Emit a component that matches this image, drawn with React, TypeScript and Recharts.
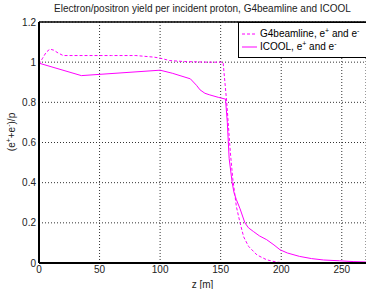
import React from 'react';
import {
  LineChart, Line, XAxis, YAxis, CartesianGrid, ReferenceLine
} from 'recharts';

const FONT = '"Liberation Sans", Arial, Helvetica, sans-serif';
const MAGENTA = '#ff00ff';

// z [m] and yield for each code
const g4Z = [0, 3, 6, 9, 12, 16, 20, 40, 60, 80, 95, 100, 108, 120, 140, 152, 155, 158, 160, 163, 166, 169, 173, 180, 188, 195, 200, 220, 270];
const g4Yield = [0.99, 1.02, 1.05, 1.065, 1.06, 1.045, 1.033, 1.033, 1.033, 1.033, 1.025, 1.02, 1.008, 1.003, 1.0, 1.0, 0.8, 0.55, 0.42, 0.28, 0.2, 0.13, 0.083, 0.04, 0.016, 0.006, 0.002, 0.001, 0];

const icoolZ = [0, 35, 100, 110, 125, 130, 133, 137, 141, 148, 154, 155.5, 157, 159.5, 161, 163, 166, 170, 173, 177, 182, 188, 194, 199, 205, 215, 225, 235, 248, 260, 270];
const icoolYield = [0.995, 0.933, 0.96, 0.945, 0.917, 0.885, 0.862, 0.845, 0.837, 0.825, 0.816, 0.7, 0.52, 0.4, 0.35, 0.315, 0.27, 0.2, 0.175, 0.157, 0.135, 0.116, 0.09, 0.066, 0.05, 0.033, 0.022, 0.015, 0.011, 0.007, 0.005];

const xTicks = [0, 50, 100, 150, 200, 250];
const yTicks = [0, 0.2, 0.4, 0.6, 0.8, 1, 1.2];

const g4Data = g4Z.map((z, i) => ({ z, v: g4Yield[i] }));
const icoolData = icoolZ.map((z, i) => ({ z, v: icoolYield[i] }));

const sup = (s: string) => (
  <sup style={{ fontSize: 7, lineHeight: 0 }}>{s}</sup>
);

const LegendBox = () => (
  <div style={{
    position: 'absolute', left: 238, top: 22,
    border: '1.5px solid #000', background: '#fff', width: 140, height: 36,
    fontFamily: FONT, fontSize: 10, color: '#000', boxSizing: 'border-box',
    padding: '4px 0 0 2px'
  }}>
    <div style={{ display: 'flex', alignItems: 'center', height: 13 }}>
      <svg width={17} height={4}><line x1={1} y1={2} x2={16} y2={2} stroke={MAGENTA} strokeDasharray="3 2" /></svg>
      <span style={{ marginLeft: 2 }}>G4beamline, e{sup('+')} and e{sup('-')}</span>
    </div>
    <div style={{ display: 'flex', alignItems: 'center', height: 13 }}>
      <svg width={17} height={4}><line x1={1} y1={2} x2={16} y2={2} stroke={MAGENTA} /></svg>
      <span style={{ marginLeft: 2 }}>ICOOL, e{sup('+')} and e{sup('-')}</span>
    </div>
  </div>
);

// rotated y label with superscripts
const YLabel = () => {
  const cx = 15;
  const cy = 132;
  return (
    <text x={cx} y={cy} transform={`rotate(-90 ${cx} ${cy})`} textAnchor="middle"
      fontFamily={FONT} fontSize={10} fill="#222">
      <tspan>(e</tspan>
      <tspan dy={-4} fontSize={7}>+</tspan>
      <tspan dy={4}>+e</tspan>
      <tspan dy={-4} fontSize={7}>-</tspan>
      <tspan dy={4}>)/p</tspan>
    </text>
  );
};

export default function App() {
  return (
    <div style={{ position: 'absolute', left: 0, top: 0, width: 366, height: 289, overflow: 'hidden', background: '#fff' }}>
      <div style={{
        position: 'absolute', left: 39, width: 327, top: 3, textAlign: 'center',
        fontFamily: FONT, fontSize: 10, color: '#222', whiteSpace: 'nowrap'
      }}>
        Electron/positron yield per incident proton, G4beamline and ICOOL
      </div>
      <LineChart width={366} height={289} data={icoolData} margin={{ top: 22, right: 0, bottom: 0, left: 0 }}>
        <CartesianGrid stroke="#333" strokeDasharray="1 2" />
        <XAxis type="number" dataKey="z" domain={[0, 270]} ticks={xTicks} allowDataOverflow
          height={26} tickLine={false} tickSize={3} tickMargin={0}
          axisLine={{ stroke: '#000', strokeWidth: 2 }}
          tick={{ fill: '#222', fontSize: 10, fontFamily: FONT }}
          label={{ value: 'z [m]', position: 'insideBottom', offset: 1, fill: '#222', fontSize: 10, fontFamily: FONT }} />
        <YAxis type="number" domain={[0, 1.2]} ticks={yTicks} width={39} allowDataOverflow
          tickLine={false} tickSize={3} tickMargin={0}
          axisLine={{ stroke: '#000', strokeWidth: 2 }}
          tick={{ fill: '#222', fontSize: 10, fontFamily: FONT }}
          label={<YLabel />} />
        <ReferenceLine y={1.2} stroke="#000" strokeWidth={1.5} />
        <ReferenceLine y={0} stroke="#000" strokeWidth={2} />
        <ReferenceLine x={0} stroke="#000" strokeWidth={2} />
        <Line data={g4Data} dataKey="v" type="linear" stroke={MAGENTA} strokeWidth={1}
          strokeDasharray="3 2" dot={false} isAnimationActive={false} />
        <Line data={icoolData} dataKey="v" type="linear" stroke={MAGENTA} strokeWidth={1}
          dot={false} isAnimationActive={false} />
      </LineChart>
      <LegendBox />
    </div>
  );
}
